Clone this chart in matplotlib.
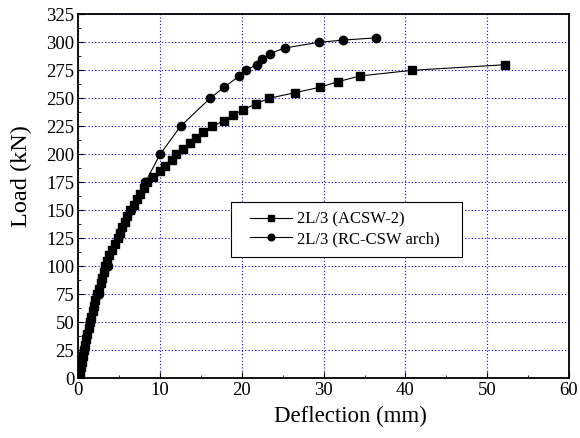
import matplotlib
matplotlib.use("Agg")
import matplotlib.pyplot as plt
from matplotlib.ticker import MultipleLocator
from matplotlib.patches import Rectangle

plt.rcParams['font.family'] = ['Liberation Serif', 'DejaVu Serif']

# ACSW-2 series (deflection mm, load kN)
acsw_defl = [0.0, 0.15, 0.3, 0.42, 0.55, 0.68, 0.82, 0.95, 1.1, 1.25, 1.43, 1.6, 1.75, 1.9,
             2.04, 2.3, 2.5, 2.75, 2.95, 3.1, 3.26, 3.5, 3.8, 4.1, 4.45, 4.8, 5.05, 5.35,
             5.65, 5.95, 6.3, 6.75, 7.15, 7.6, 8.0, 8.4, 9.15, 9.96, 10.66, 11.4, 12.0,
             12.8, 13.6, 14.35, 15.3, 16.4, 17.8, 18.9, 20.2, 21.7, 23.3, 26.5, 29.6,
             31.8, 34.5, 40.8, 52.2]
acsw_load = [0, 5, 10, 15, 20, 25, 30, 35, 40, 45, 50, 55, 60, 65,
             70, 75, 80, 85, 90, 95, 100, 105, 110, 115, 120, 125, 130, 135,
             140, 145, 150, 155, 160, 165, 170, 175, 180, 185, 190, 195, 200,
             205, 210, 215, 220, 225, 230, 235, 240, 245, 250, 255, 260,
             265, 270, 275, 280]

# RC-CSW arch series
rc_defl = [0.0, 0.7, 1.43, 2.56, 3.66, 4.9, 6.5, 8.2, 10.0, 12.5, 16.1, 17.85, 19.7,
           20.45, 21.8, 22.5, 23.4, 25.3, 29.4, 32.4, 36.4]
rc_load = [0, 25, 50, 75, 100, 125, 150, 175, 200, 225, 250, 260, 270,
           275, 280, 285, 290, 295, 300, 302, 304]

labels = ['2L/3 (ACSW-2)', '2L/3 (RC-CSW arch)']

fig = plt.figure(figsize=(5.8, 4.38), dpi=100)
ax = fig.add_axes([0.1350, 0.1363, 0.8460, 0.8310])

ax.plot(acsw_defl, acsw_load, color='black', lw=0.8, marker='s', ms=5.3,
        label=labels[0], zorder=3)
ax.plot(rc_defl, rc_load, color='black', lw=0.8, marker='o', ms=6,
        label=labels[1], zorder=3)

ax.set_xlim(0, 60)
ax.set_ylim(0, 325)
ax.xaxis.set_major_locator(MultipleLocator(10))
ax.xaxis.set_minor_locator(MultipleLocator(5))
ax.yaxis.set_major_locator(MultipleLocator(25))
ax.yaxis.set_minor_locator(MultipleLocator(12.5))
ax.tick_params(which='both', direction='in', labelsize=13.5)
ax.tick_params(which='major', length=4, pad=3)
ax.tick_params(which='minor', length=2.5)
ax.grid(True, which='major', color='blue', linestyle=(0, (1, 2)), linewidth=0.8)
ax.set_axisbelow(True)
for s in ax.spines.values():
    s.set_linewidth(1.3)

ax.set_xlabel('Deflection (mm)', fontsize=16.5)
ax.xaxis.set_label_coords(0.554, -0.075)
ax.set_ylabel('Load (kN)', fontsize=17.5)
ax.yaxis.set_label_coords(-0.094, 0.555)

# legend frame
ax.add_patch(Rectangle((0.3106, 0.334), 0.4714, 0.1495, transform=ax.transAxes,
                       facecolor='white', edgecolor='black', lw=0.8, zorder=4))
leg = ax.legend(loc='center left', bbox_to_anchor=(0.35, 0.409), fontsize=12,
                frameon=False, handlelength=2.5, handletextpad=0.3,
                borderpad=0, borderaxespad=0, labelspacing=0.2, markerscale=0.8)
leg.set_zorder(5)

fig.savefig('out.png', dpi=100)
